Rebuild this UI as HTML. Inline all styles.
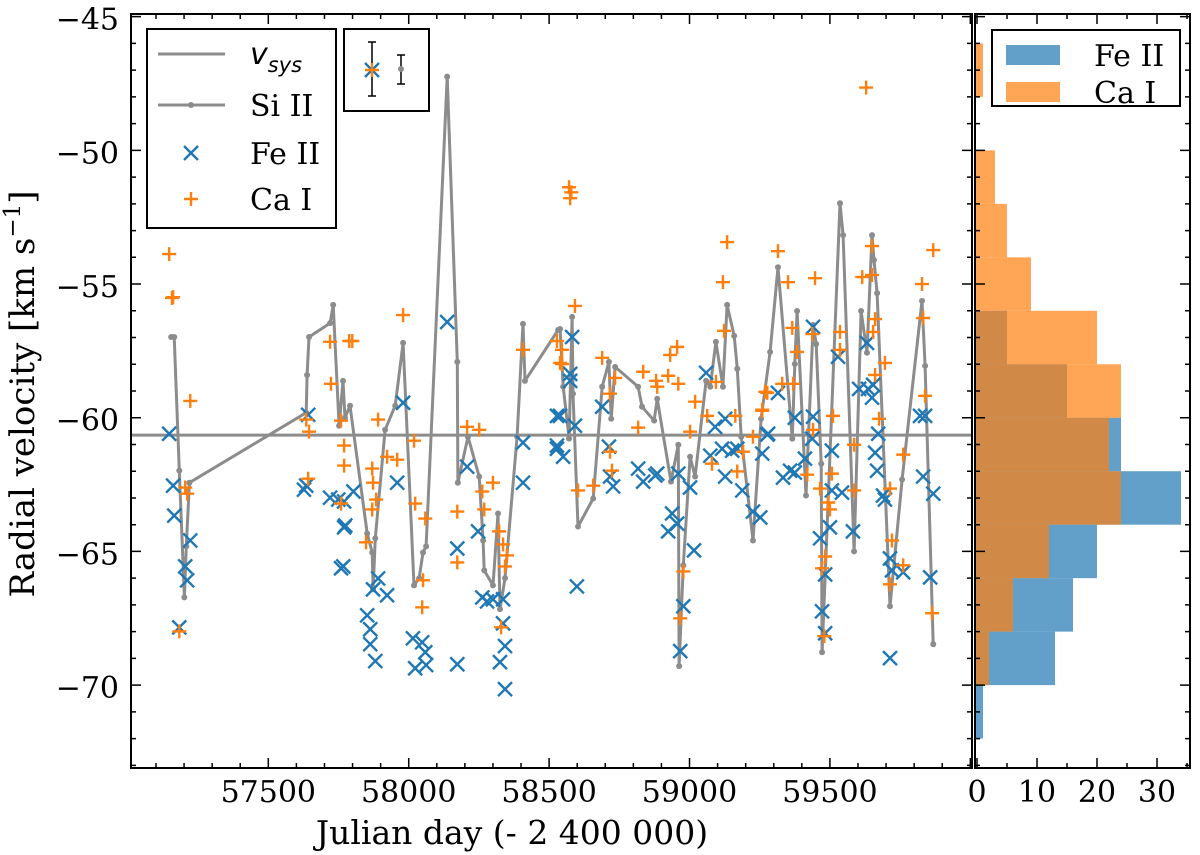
<!DOCTYPE html>
<html><head><meta charset="utf-8">
<style>
html,body{margin:0;padding:0;background:#fff;}
svg{display:block;}
text{font-family:"DejaVu Serif","Liberation Serif",serif;fill:#000;}
</style></head>
<body>
<svg id="chart" width="1200" height="855" viewBox="0 0 1200 855" xmlns="http://www.w3.org/2000/svg">
<g id="hist"></g>
<g id="main"></g>
<g id="axes"></g>
<text x="512" y="844" font-size="33" text-anchor="middle">Julian day (- 2 400 000)</text>
<text transform="translate(34,394) rotate(-90)" font-size="34" text-anchor="middle">Radial velocity [km s<tspan font-size="23" dy="-14">−1</tspan><tspan dy="14">]</tspan></text>
<g>
<rect x="147" y="29" width="189" height="199" fill="#fff" stroke="#000" stroke-width="2"/>
<line x1="158" y1="54" x2="225" y2="54" stroke="#8c8c8c" stroke-width="3"/>
<text x="250" y="64" font-size="30" font-style="italic" style="font-family:'DejaVu Sans','Liberation Sans',sans-serif">v<tspan font-size="21" dy="8">sys</tspan></text>
<line x1="158" y1="105" x2="225" y2="105" stroke="#8c8c8c" stroke-width="3"/>
<circle cx="191" cy="105" r="3" fill="#8c8c8c"/>
<text x="250" y="116" font-size="30">Si II</text>
<path d="M184,146 L198,160 M198,146 L184,160" stroke="#1f77b4" stroke-width="2.4"/>
<text x="250" y="164" font-size="30">Fe II</text>
<path d="M191,192 L191,206 M184,199 L198,199" stroke="#ff7f0e" stroke-width="2.4"/>
<text x="250" y="210" font-size="30">Ca I</text>
</g>
<g>
<rect x="344" y="29" width="85" height="82" fill="#fff" stroke="#000" stroke-width="2"/>
<path d="M372,42 L372,96 M368,42 L376,42 M368,96 L376,96" stroke="#000" stroke-width="1.5"/>
<path d="M365,63 L379,77 M379,63 L365,77" stroke="#1f77b4" stroke-width="2.4"/>
<path d="M372,63 L372,77 M365,70 L379,70" stroke="#ff7f0e" stroke-width="2.4"/>
<path d="M401,55 L401,84 M397,55 L405,55 M397,84 L405,84" stroke="#000" stroke-width="1.5"/>
<circle cx="401" cy="69" r="3" fill="#8c8c8c"/>
</g>
<g>
<rect x="992" y="30" width="188" height="76" fill="#fff" stroke="#000" stroke-width="2"/>
<rect x="1006" y="45" width="54" height="20" fill="rgba(31,119,180,0.7)"/>
<text x="1094" y="66" font-size="30">Fe II</text>
<rect x="1006" y="82" width="54" height="20" fill="rgba(255,127,14,0.7)"/>
<text x="1094" y="103" font-size="30">Ca I</text>
</g>
</svg>
<script>
// ---- data ----
const siJD = [57154,57165,57183,57201,57208,57219,57635,57638,57645,57720,57731,57752,57766,57773,57791,57852,57870,57873,57881,57916,57952,57980,58019,58037,58051,58062,58137,58173,58175,58211,58251,58265,58269,58300,58318,58325,58343,58386,58407,58414,58532,58539,58550,58571,58582,58585,58603,58657,58689,58713,58721,58735,58817,58831,58874,58885,58934,58960,58963,58978,59002,59020,59059,59074,59094,59119,59134,59159,59170,59184,59226,59255,59287,59315,59366,59375,59383,59415,59440,59451,59469,59472,59536,59547,59586,59611,59632,59650,59657,59668,59714,59757,59828,59839,59868];
const siV = [-56.98,-56.98,-61.98,-66.72,-64.81,-62.43,-59.81,-58.40,-56.98,-56.46,-55.78,-60.30,-58.62,-60.00,-59.55,-64.33,-65.04,-66.42,-64.51,-60.45,-59.55,-57.20,-66.27,-66.01,-65.04,-64.81,-47.24,-57.91,-62.43,-60.71,-62.20,-64.59,-65.71,-66.27,-63.58,-67.16,-66.0,-60.71,-56.49,-58.62,-56.72,-56.68,-58.84,-60.78,-56.23,-59.10,-64.07,-63.02,-58.84,-57.91,-60.04,-58.10,-58.84,-59.59,-60.11,-59.29,-62.39,-61.01,-69.29,-65.52,-61.46,-62.20,-58.62,-58.84,-57.16,-58.84,-55.78,-56.94,-58.17,-60.71,-64.59,-60.04,-57.54,-54.37,-60.78,-57.99,-56.01,-62.91,-56.53,-57.24,-61.72,-68.77,-51.98,-53.17,-65.0,-56.01,-57.57,-53.17,-54.10,-55.34,-67.05,-62.31,-55.63,-58.06,-68.47];
const feJD = [57147,57161,57165,57222,57204,57211,57183,57642,57627,57635,57720,57749,57770,57770,57759,57803,57774,57767,57891,57873,57923,57852,57863,57863,57881,57980,57959,58015,58048,58059,58023,58062,58137,58208,58173,58247,58173,58262,58279,58300,58336,58336,58343,58325,58343,58407,58407,58528,58528,58582,58575,58575,58539,58592,58528,58550,58689,58713,58717,58728,58817,58835,58878,58885,58960,59002,58938,58956,58924,59016,58978,58967,58599,59059,59091,59127,59074,59116,59152,59170,59127,59188,59226,59259,59280,59315,59277,59252,59333,59358,59375,59411,59375,59440,59437,59440,59529,59507,59507,59543,59500,59465,59483,59472,59483,59582,59604,59632,59636,59650,59654,59672,59661,59668,59689,59696,59714,59721,59761,59714,59821,59839,59832,59868,59857];
const feV = [-60.60,-62.54,-63.66,-64.59,-65.56,-66.08,-67.84,-59.89,-62.69,-62.54,-62.99,-63.06,-63.13,-64.10,-65.63,-62.76,-64.03,-65.56,-66.01,-66.42,-66.64,-67.39,-67.91,-68.47,-69.10,-59.44,-62.43,-68.25,-68.40,-68.77,-69.37,-69.25,-56.42,-61.83,-64.89,-64.25,-69.22,-66.72,-66.87,-66.79,-66.79,-67.69,-68.54,-69.14,-70.15,-60.93,-62.43,-59.93,-61.16,-56.98,-58.36,-58.62,-59.93,-60.30,-61.04,-61.46,-59.59,-61.08,-62.20,-62.57,-61.90,-62.39,-62.16,-62.09,-62.09,-62.61,-63.58,-63.96,-64.25,-64.96,-67.05,-68.73,-66.31,-58.32,-60.34,-60.04,-61.42,-61.16,-61.23,-61.16,-62.20,-62.72,-63.51,-61.34,-60.60,-59.07,-60.63,-63.73,-62.24,-61.98,-62.05,-61.53,-60.00,-59.96,-60.78,-56.60,-57.72,-61.23,-62.72,-62.80,-64.10,-64.51,-65.86,-67.24,-68.06,-64.25,-58.92,-57.20,-58.92,-59.25,-58.77,-60.60,-61.31,-61.98,-62.91,-63.06,-65.26,-65.71,-65.78,-68.99,-59.93,-59.93,-62.20,-62.84,-65.97];
const caJD = [57147,57157,57161,57222,57204,57211,57183,57635,57645,57642,57720,57788,57723,57759,57770,57770,57759,57799,57980,57891,57923,57959,57870,57873,57884,57870,58019,58023,58059,57848,58051,58048,58251,58208,58300,58173,58262,58269,58173,58322,58336,58350,58343,58329,58407,58528,58539,58592,58546,58546,58571,58579,58575,58689,58735,58717,58835,58881,58885,58924,58960,58931,58956,58817,59002,59020,59063,59094,59134,59119,59123,59163,59270,59259,59226,59191,59080,59170,58717,58724,58657,58603,58978,58967,59315,59351,59447,59366,59383,59330,59369,59277,59259,59437,59440,59511,59419,59507,59465,59494,59500,59483,59472,59480,59536,59536,59586,59586,59615,59650,59650,59661,59654,59661,59696,59675,59714,59761,59721,59761,59714,59868,59828,59832,59839,59864,59629];
const caV = [-53.88,-55.52,-55.49,-59.37,-62.61,-62.84,-67.99,-60.07,-60.52,-62.28,-57.16,-57.13,-58.73,-60.11,-61.04,-61.79,-63.21,-57.13,-56.16,-60.07,-61.46,-61.57,-61.90,-62.43,-63.06,-63.43,-60.86,-63.21,-63.77,-64.66,-66.08,-67.09,-60.45,-60.34,-62.43,-63.51,-62.76,-63.43,-65.41,-64.25,-64.74,-65.15,-65.56,-67.84,-57.46,-57.13,-57.95,-55.82,-57.46,-57.99,-51.38,-51.57,-51.79,-57.76,-58.51,-59.10,-58.28,-58.62,-58.84,-58.43,-58.73,-57.65,-57.35,-60.37,-60.52,-59.40,-59.93,-58.66,-53.43,-54.93,-56.75,-59.93,-59.03,-59.74,-60.71,-61.27,-61.72,-62.01,-61.27,-61.98,-62.54,-62.72,-65.75,-67.50,-53.77,-54.93,-54.78,-56.64,-57.54,-58.73,-58.73,-59.07,-59.70,-56.87,-60.45,-59.93,-62.13,-62.09,-62.65,-63.17,-63.43,-65.19,-65.63,-68.17,-56.79,-57.46,-61.01,-62.72,-54.74,-54.66,-53.58,-56.31,-56.79,-58.40,-57.95,-60.04,-62.65,-61.38,-64.59,-65.52,-66.23,-53.73,-55.00,-56.27,-59.18,-67.31,-47.65];
const vSys = -60.65;
const binEdges = [-72,-70,-68,-66,-64,-62,-60,-58,-56,-54,-52,-50,-48,-46];
const feCounts = [1,13,16,20,34,24,15,5,0,0,0,0,0];
const caCounts = [0,2,6,12,24,22,24,20,9,5,3,0,1];
const xTicks = [57500,58000,58500,59000,59500];
const yTicks = [-70,-65,-60,-55,-50,-45];
const hTicks = [0,10,20,30];

// ---- scales ----
const L=131,R=972,T=14,B=768,HL=975,HR=1190;
const X0=57011,X1=60006,Y0=-73.1,Y1=-44.9;
const sx=v=>L+(v-X0)/(X1-X0)*(R-L);
const sy=v=>B-(v-Y0)/(Y1-Y0)*(B-T);
const hx=c=>977+c*6;
const NS="http://www.w3.org/2000/svg";
function mk(tag,attrs,parent){const e=document.createElementNS(NS,tag);for(const k in attrs)e.setAttribute(k,attrs[k]);parent.appendChild(e);return e;}
const main=document.getElementById('main'),hist=document.getElementById('hist'),axes=document.getElementById('axes');

const defs=mk('defs',{},document.getElementById('chart'));
const cp=mk('clipPath',{id:'clipMain'},defs);mk('rect',{x:L,y:T,width:R-L,height:B-T},cp);
main.setAttribute('clip-path','url(#clipMain)');

for(let i=0;i<feCounts.length;i++){
  if(!feCounts[i])continue;
  const r=mk('rect',{x:HL,y:sy(binEdges[i+1]),width:hx(feCounts[i])-HL,height:sy(binEdges[i])-sy(binEdges[i+1]),fill:'rgba(31,119,180,0.7)'},hist);
  
  
}
for(let i=0;i<caCounts.length;i++){
  if(!caCounts[i])continue;
  const r=mk('rect',{x:HL,y:sy(binEdges[i+1]),width:hx(caCounts[i])-HL,height:sy(binEdges[i])-sy(binEdges[i+1]),fill:'rgba(255,127,14,0.7)'},hist);
  
  
}

const vs=mk('line',{x1:L,x2:R,y1:sy(vSys),y2:sy(vSys),stroke:'#8c8c8c','stroke-width':3},main);



let d='';
for(let i=0;i<siJD.length;i++)d+=(i?'L':'M')+sx(siJD[i]).toFixed(1)+','+sy(siV[i]).toFixed(1);
const sl=mk('path',{d:d,fill:'none',stroke:'#8c8c8c','stroke-width':3,'stroke-linejoin':'round'},main);


for(let i=0;i<siJD.length;i++){
  const c=mk('circle',{cx:sx(siJD[i]),cy:sy(siV[i]),r:3,fill:'#8c8c8c'},main);
  
  
}
for(let i=0;i<feJD.length;i++){
  const x=sx(feJD[i]),y=sy(feV[i]),s=7;
  const p=mk('path',{d:`M${x-s},${y-s}L${x+s},${y+s}M${x+s},${y-s}L${x-s},${y+s}`,stroke:'#1f77b4','stroke-width':2.4},main);
  
  
}
for(let i=0;i<caJD.length;i++){
  const x=sx(caJD[i]),y=sy(caV[i]),s=7;
  const p=mk('path',{d:`M${x},${y-s}L${x},${y+s}M${x-s},${y}L${x+s},${y}`,stroke:'#ff7f0e','stroke-width':2.4},main);
  
  
}

mk('rect',{x:L,y:T,width:R-L,height:B-T,fill:'none',stroke:'#000','stroke-width':2},axes);
mk('rect',{x:HL,y:T,width:HR-HL,height:B-T,fill:'none',stroke:'#000','stroke-width':2},axes);
let tk='';
for(let v=57100;v<=60000;v+=100){
  const x=sx(v),big=(v%500===0),len=big?10:5;
  tk+=`M${x},${B}L${x},${B-len}M${x},${T}L${x},${T+len}`;
}
for(let v=-73;v<=-45;v+=1){
  const y=sy(v),big=(v%5===0),len=big?10:5;
  tk+=`M${L},${y}L${L+len},${y}M${R},${y}L${R-len},${y}M${HL},${y}L${HL+len},${y}M${HR},${y}L${HR-len},${y}`;
}
for(let c=0;c<=35;c+=5){
  const x=hx(c),big=(c%10===0),len=big?10:5;
  tk+=`M${x},${B}L${x},${B-len}M${x},${T}L${x},${T+len}`;
}
mk('path',{d:tk,stroke:'#000','stroke-width':1.5,fill:'none'},axes);

xTicks.forEach(v=>{
  const t=mk('text',{x:sx(v),y:802,'font-size':30,'text-anchor':'middle'},axes);t.textContent=v;
  
  
});
yTicks.forEach(v=>{
  const t=mk('text',{x:119,y:sy(v)+13,'font-size':30,'text-anchor':'end'},axes);t.textContent='−'+Math.abs(v);
  
  
});
hTicks.forEach(v=>{
  const t=mk('text',{x:hx(v),y:802,'font-size':30,'text-anchor':'middle'},axes);t.textContent=v;
  
  
});
</script>
</body></html>
